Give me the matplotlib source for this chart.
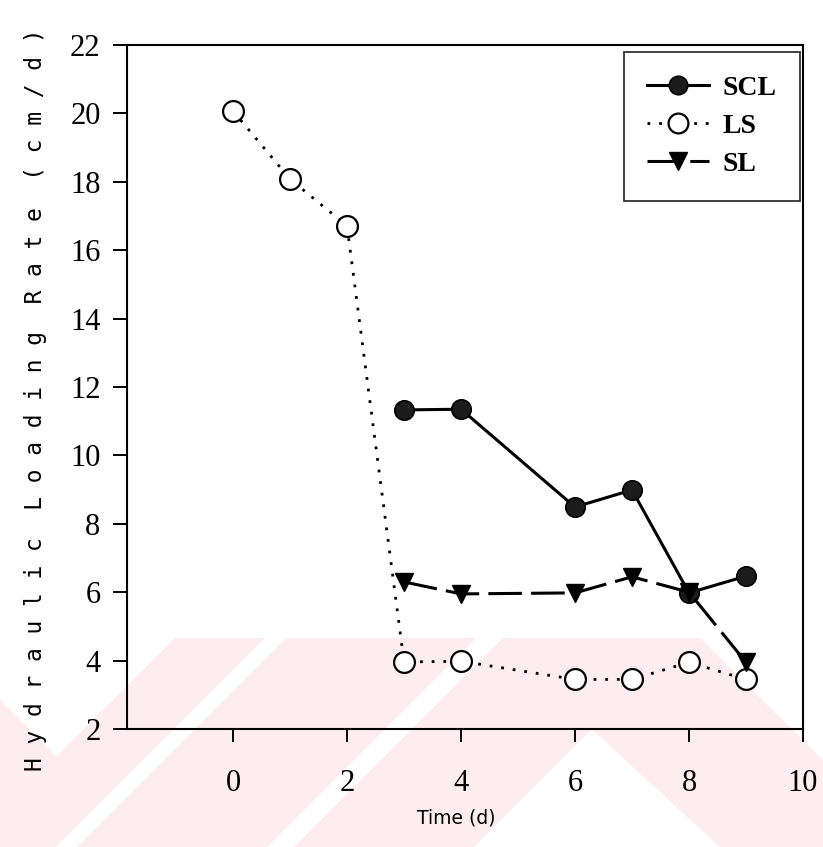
import matplotlib
matplotlib.use("Agg")
import matplotlib.pyplot as plt
from matplotlib.patches import Polygon

# Hydraulic loading rate (cm/d) over time (d) for three soil textures
scl_days = [3, 4, 6, 7, 8, 9]
scl_rate = [11.33, 11.35, 8.49, 8.99, 5.98, 6.47]

ls_days = [0, 1, 2, 3, 4, 6, 7, 8, 9]
ls_rate = [20.07, 18.08, 16.71, 3.96, 3.98, 3.45, 3.45, 3.95, 3.45]

sl_days = [3, 4, 6, 7, 8, 9]
sl_rate = [6.30, 5.95, 5.98, 6.45, 6.00, 3.95]

x_ticks = [0, 2, 4, 6, 8, 10]
y_ticks = [2, 4, 6, 8, 10, 12, 14, 16, 18, 20, 22]

W, H = 823, 847
fig = plt.figure(figsize=(W / 100, H / 100), dpi=100)

# faint pink background stripes in the lower part of the page
pink = "#fdedf0"
def px(pts):
    return [(x / W, 1 - y / H) for x, y in pts]

def band(pts):
    fig.patches.append(Polygon(px(pts), closed=True, transform=fig.transFigure,
                               facecolor=pink, edgecolor="none", zorder=-10))

top, bot = 638, 847
depth = bot - top
for a, b in [(175, 265), (286, 476), (503, 683)]:
    band([(a, top), (b, top), (b - depth, bot), (a - depth, bot)])
band([(0, 700), (60, 760), (0, 820)])
band([(560, 700), (720, 847), (823, 847), (823, 760), (700, 638), (683, 638)])

ax = fig.add_axes([127 / W, 1 - 729 / H, (803 - 127) / W, (729 - 45) / H])
ax.set_facecolor("none")
ax.set_zorder(1)

ax.plot(scl_days, scl_rate, color="black", linestyle="-", linewidth=2.2,
        marker="o", markersize=14, markerfacecolor="#1c1c1c",
        markeredgecolor="black", markeredgewidth=1.2, label="SCL", zorder=4)
ax.plot(ls_days, ls_rate, color="black", linestyle=(0, (1, 3.2)), linewidth=2.0,
        marker="o", markersize=15, markerfacecolor="white",
        markeredgecolor="black", markeredgewidth=1.6, label="LS", zorder=3)
ax.plot(sl_days, sl_rate, color="black", linestyle=(0, (11, 3)), linewidth=2.2,
        marker="v", markersize=13, markerfacecolor="black",
        markeredgecolor="black", markeredgewidth=1.0, label="SL", zorder=4)

ax.set_xlim(-1.86, 10)
ax.set_ylim(2, 22)
ax.set_xticks(x_ticks)
ax.set_yticks(y_ticks)

tick_font = {"family": "Liberation Serif", "size": 22}
ax.set_xticklabels([str(v) for v in x_ticks], fontdict=tick_font)
ax.set_yticklabels([str(v) for v in y_ticks], fontdict=tick_font)
ax.tick_params(axis="y", direction="out", length=10, width=1.4, pad=9)
ax.tick_params(axis="x", direction="out", length=9, width=1.4, pad=20)

for s in ax.spines.values():
    s.set_linewidth(1.5)
    s.set_color("black")

fig.text(456 / W, 1 - 818 / H, "Time (d)", family="DejaVu Sans",
         fontsize=13.5, ha="center", va="center")
fig.text(36 / W, 1 - 400 / H,
         "H y d r a u l i c  L o a d i n g  R a t e  ( c m / d )",
         family="DejaVu Sans Mono", fontsize=16.5, rotation=90,
         ha="center", va="center")

leg = ax.legend(loc="upper right", bbox_to_anchor=(0.9956, 0.9898),
                borderaxespad=0, frameon=True, fancybox=False,
                prop={"family": "Liberation Serif", "weight": "bold", "size": 20},
                handlelength=2.2, handletextpad=0.5, labelspacing=0.45,
                borderpad=0.85, markerscale=0.95)
leg.get_frame().set_edgecolor("black")
leg.get_frame().set_linewidth(1.3)

fig.savefig("out.png", dpi=100)
